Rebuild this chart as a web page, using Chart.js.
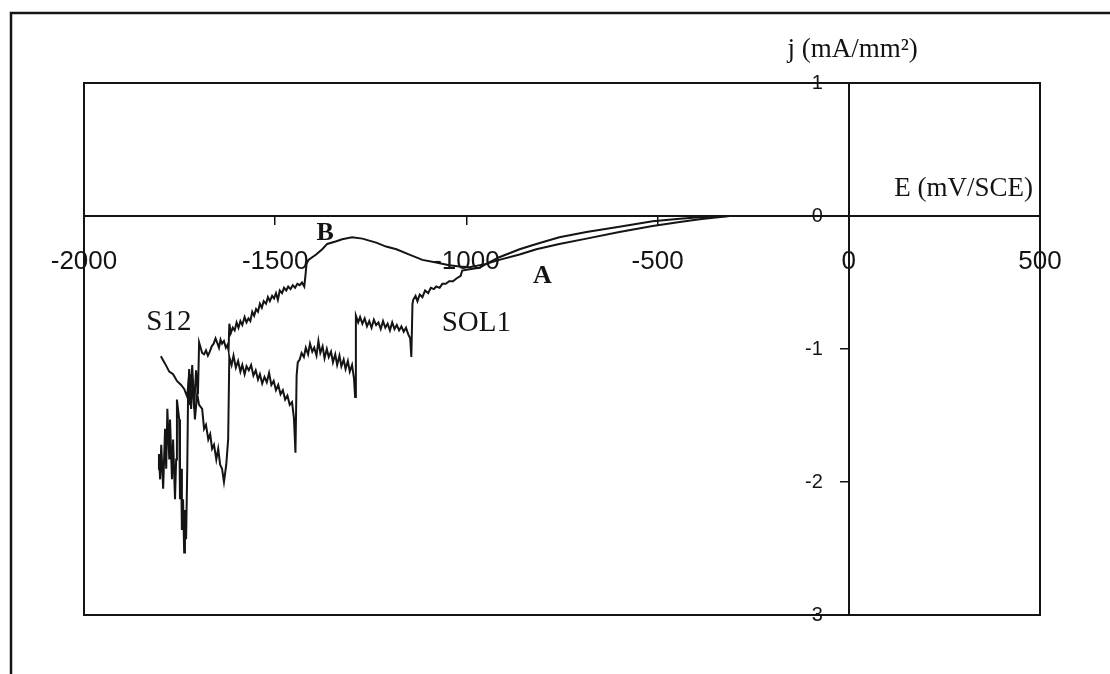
<!DOCTYPE html>
<html>
<head>
<meta charset="utf-8">
<title>S12 / SOL1 polarisation curves</title>
<script src="https://cdn.jsdelivr.net/npm/chart.js@4.4.1/dist/chart.umd.min.js"></script>
<style>
  html, body { margin: 0; padding: 0; background: #fff; }
  #wrap { width: 1110px; height: 674px; }
</style>
</head>
<body>
<div id="wrap"><canvas id="chart" width="1110" height="674"></canvas></div>
<script>
// E in mV/SCE, j in mA/mm2
const s12E = [-1799, -1788, -1777, -1767, -1757, -1746, -1738, -1730, -1725, -1723, -1717, -1712, -1707, -1702,
    -1699, -1695, -1691, -1686, -1681, -1676, -1671, -1666, -1661, -1656, -1652, -1647, -1643, -1639, -1634, -1629, -1625, -1622,
    -1620, -1616, -1611, -1606, -1601, -1596, -1591, -1586, -1580, -1575, -1570, -1565, -1560, -1555, -1550, -1545, -1540, -1535,
    -1530, -1524, -1519, -1514, -1508, -1503, -1498, -1493, -1488, -1482, -1477, -1471, -1466, -1460, -1454, -1448, -1442, -1436,
    -1430, -1424, -1421, -1418, -1413,
    -1393, -1377, -1364, -1340, -1325, -1299, -1272, -1236, -1210, -1183, -1149, -1115, -1079, -1045, -1018, -992, -948, -914,
    -861, -817, -757, -686, -600, -513, -442, -390, -312];
const s12J = [-1.055, -1.11, -1.17, -1.19, -1.24, -1.27, -1.30, -1.36, -1.19, -1.42, -1.12, -1.45, -1.16, -1.34,
    -0.95, -0.99, -1.03, -1.04, -1.01, -1.05, -1.02, -0.98, -0.96, -0.92, -0.95, -0.99, -0.93, -0.96, -0.94, -0.99, -0.97, -1.01,
    -0.81, -0.88, -0.84, -0.86, -0.80, -0.84, -0.79, -0.82, -0.76, -0.80, -0.77, -0.79, -0.72, -0.75, -0.70, -0.72, -0.66, -0.69,
    -0.64, -0.66, -0.61, -0.64, -0.60, -0.62, -0.58, -0.63, -0.56, -0.58, -0.54, -0.56, -0.53, -0.55, -0.52, -0.54, -0.51, -0.52,
    -0.50, -0.53, -0.45, -0.36, -0.33,
    -0.29, -0.25, -0.21, -0.19, -0.175, -0.16, -0.17, -0.20, -0.23, -0.25, -0.29, -0.33, -0.35, -0.37, -0.38, -0.385, -0.36, -0.31,
    -0.25, -0.21, -0.16, -0.12, -0.08, -0.04, -0.02, -0.01, 0];

const sol1E = [-1806, -1804, -1801, -1798, -1793, -1788, -1785, -1782, -1777, -1775, -1770, -1767, -1762, -1759, -1757,
    -1751, -1749, -1746, -1744, -1741, -1738, -1736, -1733, -1730, -1728, -1725, -1720, -1715, -1710, -1704, -1699, -1691,
    -1686, -1681, -1675, -1670, -1665, -1660, -1654, -1649, -1644, -1639, -1634, -1628, -1623,
    -1620, -1614, -1609, -1603, -1597, -1591, -1586, -1580, -1575, -1569, -1563, -1557, -1551, -1545, -1540, -1534, -1528,
    -1522, -1516, -1510, -1504, -1498, -1492, -1486, -1480, -1474, -1468, -1462, -1456, -1451, -1447, -1444, -1441,
    -1436, -1431, -1425, -1420, -1414, -1409, -1403, -1398, -1392, -1387, -1382, -1376, -1371, -1365, -1360, -1354, -1349,
    -1343, -1338, -1332, -1327, -1321, -1316, -1310, -1305, -1299, -1294, -1291, -1289,
    -1283, -1278, -1272, -1266, -1260, -1254, -1248, -1242, -1236, -1230, -1224, -1218, -1212, -1206, -1200, -1194, -1188,
    -1182, -1176, -1170, -1164, -1158, -1152, -1147, -1144, -1141,
    -1139, -1133, -1128, -1122, -1115, -1108, -1100, -1093, -1085, -1079, -1070, -1063, -1054, -1045, -1035, -1026, -1015,
    -1011, -992, -966, -948, -914, -861, -817, -757, -686, -600, -513, -442, -390, -312];
const sol1J = [-1.905, -1.79, -1.98, -1.72, -2.05, -1.60, -1.90, -1.45, -1.83, -1.53, -1.98, -1.68, -2.13, -1.83, -1.38,
    -1.53, -2.13, -1.90, -2.36, -2.13, -2.53, -2.21, -2.43, -1.90, -1.38, -1.15, -1.45, -1.23, -1.53, -1.34, -1.42, -1.45,
    -1.60, -1.57, -1.68, -1.64, -1.75, -1.72, -1.83, -1.75, -1.87, -1.90, -2.00, -1.87, -1.68,
    -1.06, -1.12, -1.05, -1.14, -1.09, -1.17, -1.12, -1.19, -1.13, -1.16, -1.12, -1.20, -1.16, -1.23, -1.19, -1.26, -1.21,
    -1.25, -1.18, -1.27, -1.24, -1.31, -1.27, -1.34, -1.31, -1.38, -1.35, -1.42, -1.40, -1.52, -1.78, -1.20, -1.10,
    -1.08, -1.03, -1.06, -0.99, -1.04, -0.96, -1.02, -0.99, -1.05, -0.94, -1.03, -0.98, -1.07, -1.00, -1.06, -1.02, -1.10,
    -1.04, -1.12, -1.05, -1.13, -1.08, -1.15, -1.09, -1.17, -1.12, -1.22, -1.36, -0.75,
    -0.80, -0.76, -0.81, -0.77, -0.83, -0.79, -0.84, -0.78, -0.82, -0.80, -0.85, -0.79, -0.84, -0.81, -0.86, -0.80, -0.85,
    -0.82, -0.86, -0.83, -0.87, -0.84, -0.89, -0.92, -1.06, -0.66,
    -0.63, -0.60, -0.64, -0.59, -0.61, -0.56, -0.58, -0.54, -0.55, -0.53, -0.54, -0.51, -0.51, -0.49, -0.49, -0.47, -0.45,
    -0.41, -0.40, -0.39, -0.36, -0.33, -0.29, -0.25, -0.21, -0.17, -0.12, -0.075, -0.045, -0.025, 0];

const xTicks = [-2000, -1500, -1000, -500, 0, 500];
const yTicks = [1, 0, -1, -2, -3];

// text written inside the plot, anchored on data values
const notes = [
    { text: 'S12', e: -1778, j: -0.80, font: '29px "Liberation Serif"' },
    { text: 'SOL1', e: -974, j: -0.81, font: '29px "Liberation Serif"' },
    { text: 'A', e: -801, j: -0.45, font: 'bold 26px "Liberation Serif"' },
    { text: 'B', e: -1369, j: -0.13, font: 'bold 26px "Liberation Serif"' }
];

const ink = '#141414';

function toPoints(xs, ys) {
    return xs.map((x, i) => ({ x: x, y: ys[i] }));
}

const decor = {
    id: 'decor',
    beforeDraw(chart) {
        const ctx = chart.ctx;
        ctx.save();
        ctx.fillStyle = '#fff';
        ctx.fillRect(0, 0, chart.width, chart.height);
        // outer frame of the scanned figure (only left and top edges show)
        ctx.strokeStyle = ink;
        ctx.lineWidth = 2.5;
        ctx.beginPath();
        ctx.moveTo(11, chart.height);
        ctx.lineTo(11, 13);
        ctx.lineTo(chart.width, 13);
        ctx.stroke();
        ctx.restore();
    },
    afterDatasetsDraw(chart) {
        const ctx = chart.ctx;
        const area = chart.chartArea;
        const xs = chart.scales.x;
        const ys = chart.scales.y;
        ctx.save();
        ctx.strokeStyle = ink;
        ctx.lineWidth = 2;
        ctx.strokeRect(area.left, area.top, area.right - area.left, area.bottom - area.top);

        ctx.fillStyle = ink;
        ctx.textAlign = 'center';
        ctx.textBaseline = 'middle';
        notes.forEach(n => {
            ctx.font = n.font;
            ctx.fillText(n.text, xs.getPixelForValue(n.e), ys.getPixelForValue(n.j));
        });

        // y tick labels sit left of the crossing axis, clear of the tick marks
        ctx.font = '20px "Liberation Sans"';
        ctx.textAlign = 'right';
        const axisX = xs.getPixelForValue(0);
        ys.ticks.forEach(t => {
            ctx.fillText(String(t.value), axisX - 26, ys.getPixelForValue(t.value));
        });

        // axis titles
        ctx.font = '27px "Liberation Serif"';
        ctx.textAlign = 'center';
        ctx.fillText('j (mA/mm²)', xs.getPixelForValue(10), area.top - 33);
        ctx.textAlign = 'right';
        ctx.fillText('E (mV/SCE)', area.right - 7, ys.getPixelForValue(0.2));
        ctx.restore();
    }
};

new Chart(document.getElementById('chart'), {
    type: 'scatter',
    data: {
        datasets: [
            {
                label: 'S12',
                data: toPoints(s12E, s12J),
                showLine: true,
                borderColor: ink,
                borderWidth: 2,
                pointRadius: 0,
                tension: 0
            },
            {
                label: 'SOL1',
                data: toPoints(sol1E, sol1J),
                showLine: true,
                borderColor: ink,
                borderWidth: 2,
                pointRadius: 0,
                tension: 0
            }
        ]
    },
    options: {
        responsive: false,
        animation: false,
        devicePixelRatio: 1,
        layout: { padding: { left: 84, right: 70, top: 83, bottom: 59 } },
        plugins: {
            legend: { display: false },
            tooltip: { enabled: false }
        },
        scales: {
            x: {
                type: 'linear',
                min: -2000,
                max: 500,
                position: { y: 0 },
                afterBuildTicks: s => { s.ticks = xTicks.map(v => ({ value: v })); },
                grid: { drawOnChartArea: false, drawTicks: true, tickLength: 8, color: ink, lineWidth: 1.5 },
                border: { display: true, color: ink, width: 2 },
                ticks: {
                    color: ink,
                    maxRotation: 0,
                    padding: 22,
                    font: { family: 'Liberation Sans', size: 26 },
                    callback: v => String(v)
                }
            },
            y: {
                type: 'linear',
                min: -3,
                max: 1,
                position: { x: 0 },
                afterBuildTicks: s => { s.ticks = yTicks.map(v => ({ value: v })); },
                grid: { drawOnChartArea: false, drawTicks: true, tickLength: 8, color: ink, lineWidth: 1.5 },
                border: { display: true, color: ink, width: 2 },
                ticks: { display: false }
            }
        }
    },
    plugins: [decor]
});
</script>
</body>
</html>
